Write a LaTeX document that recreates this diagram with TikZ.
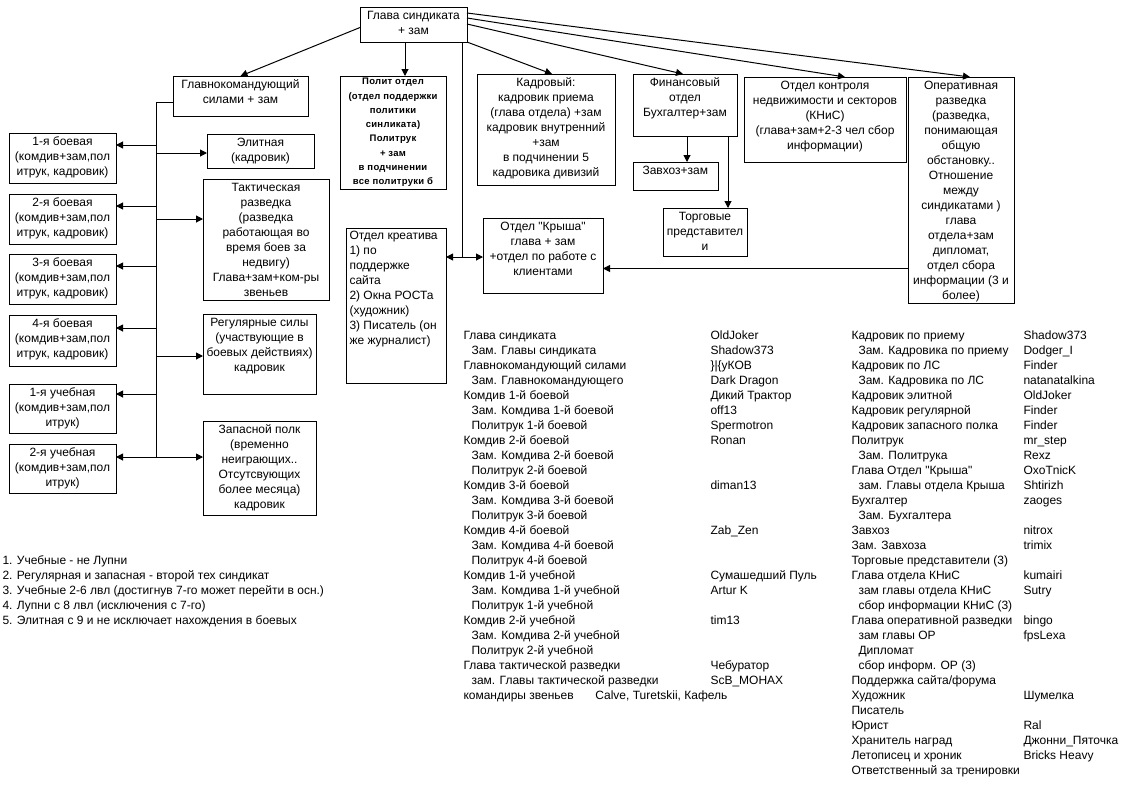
\documentclass[tikz,border=0pt]{standalone}
\usepackage{fontspec}
\setmainfont{Liberation Sans}
\newfontfamily\pbold[LetterSpace=3,BoldFont={Liberation Sans Bold}]{Liberation Sans}
\usetikzlibrary{arrows.meta,calc}
\newcommand\bx[6]{%
  \node[boxst, minimum width={(#4-#2)*1pt}, minimum height={(#5-#3)*1pt}] (#1) at (#2,#3) {};
  \node[txt, anchor=north] (#1-t) at ([yshift=-1.5pt]#1.north) {\strut #6};}
\newcommand\dq{\textquotedbl}
\begin{document}
\begin{tikzpicture}[x=1pt,y=-1pt,line width=1pt,
  boxst/.style={draw, rectangle, inner sep=0pt, outer sep=0pt, anchor=north west},
  txt/.style={inner sep=0pt, align=center, font=\fontsize{12}{15}\selectfont},
  ltxt/.style={inner sep=0pt, align=left, anchor=north west, font=\fontsize{12}{15}\selectfont},
  arr/.style={-{Triangle[length=7pt,width=7pt]}}]
\useasboundingbox[fill=white] (0,0) rectangle (1130,793);

% boxes
\bx{glava}{360}{7}{467}{42}{Глава синдиката\\+ зам}
\bx{glavnokom}{173}{76}{308}{116}{Главнокомандующий\\силами + зам}
\node[boxst, minimum width=106pt, minimum height=113pt] (polit) at (340,76) {};
\node[inner sep=0pt, align=center, anchor=north, font=\fontsize{9.5}{14.3}\selectfont\pbold\bfseries] (polit-t) at ([yshift=1.8pt]polit.north)
  {\strut Полит отдел\\(отдел поддержки\\политики\\синликата)\\Политрук\\+ зам\\в подчинении\\все политруки б};
\bx{kadr}{477}{74}{615}{185}{Кадровый:\\кадровик приема\\(глава отдела) +зам\\кадровик внутренний\\+зам\\в подчинении 5\\кадровика дивизий}
\bx{fin}{633}{74}{737}{136}{Финансовый\\отдел\\Бухгалтер+зам}
\node[boxst, minimum width=85pt, minimum height=28pt] (zavhoz) at (633,162) {};
\node[ltxt] (zavhoz-t) at (642,163.5) {\strut Завхоз+зам};
\bx{torg}{663}{208}{747}{256}{Торговые\\представител\\и}
\bx{knis}{744}{77}{906}{162}{Отдел контроля\\недвижимости и секторов\\(КНиС)\\(глава+зам+2-3 чел сбор\\информации)}
\bx{oper}{908}{77}{1014}{303}{Оперативная\\разведка\\(разведка,\\понимающая\\общую\\обстановку..\\Отношение\\между\\синдикатами )\\глава\\отдела+зам\\дипломат,\\отдел сбора\\информации (3 и\\более)}
\bx{krysha}{483}{218}{603}{293}{Отдел \dq Крыша\dq\\глава + зам\\+отдел по работе с\\клиентами}
\node[boxst, minimum width=100pt, minimum height=155pt] (kreativ) at (346,228) {};
\node[ltxt] (kreativ-t) at (349,228.5) {\strut Отдел креатива\\1) по\\поддержке\\сайта\\2) Окна РОСТа\\(художник)\\3) Писатель (он\\же журналист)};
\bx{elit}{207}{134}{314}{168}{Элитная\\(кадровик)}
\bx{takt}{203}{179}{329}{300}{Тактическая\\разведка\\(разведка\\работающая во\\время боев за\\недвигу)\\Глава+зам+ком-ры\\звеньев}
\bx{regul}{203}{314}{316}{394}{Регулярные силы\\(участвующие в\\боевых действиях)\\кадровик}
\bx{zapas}{203}{421}{316}{515}{Запасной полк\\(временно\\неиграющих..\\Отсутсвующих\\более месяца)\\кадровик}
\bx{b1}{9}{133}{116}{183}{1-я боевая\\(комдив+зам,пол\\итрук, кадровик)}
\bx{b2}{9}{194}{116}{244}{2-я боевая\\(комдив+зам,пол\\итрук, кадровик)}
\bx{b3}{9}{254}{116}{304}{3-я боевая\\(комдив+зам,пол\\итрук, кадровик)}
\bx{b4}{9}{315}{116}{366}{4-я боевая\\(комдив+зам,пол\\итрук, кадровик)}
\bx{u1}{9}{384}{116}{433}{1-я учебная\\(комдив+зам,пол\\итрук)}
\bx{u2}{9}{444}{116}{493}{2-я учебная\\(комдив+зам,пол\\итрук)}

% connectors from the head
\draw[arr] ([yshift=-3pt]glava.west) -- (glavnokom.north);
\draw[arr] ([xshift=-8.5pt]glava.south) -- ([xshift=-8.5pt]glava.south |- polit.north);
\coordinate (j1) at (462,257);
\draw (glava.south -| j1) -- (j1);
\draw[arr] (j1) -- (j1 -| kreativ.east);
\draw[arr] (j1) -- (j1 -| krysha.west);
\draw[arr] ([yshift=11.5pt]glava.east) -- ([xshift=9pt]oper.north);
\draw[arr] ([yshift=6.5pt]glava.east) -- ([xshift=20pt]knis.north);
\draw[arr] ([yshift=0.5pt]glava.east) -- ([xshift=-2pt]fin.north);
\draw[arr] (glava.south east) -- ([xshift=6pt]kadr.north);
\draw[arr] ([xshift=2pt]fin.south) -- ([xshift=2pt]fin.south |- zavhoz.north);
\draw[arr] ([xshift=43pt]fin.south) -- ([xshift=43pt]fin.south |- torg.north);
\coordinate (o1) at ($(oper.west)+(0,78.5)$);
\draw[arr] (o1) -- (o1 -| krysha.east);

% trunk of the forces
\coordinate (tr0) at (156,102);
\coordinate (tr1) at (156,458);
\draw (glavnokom.west |- tr0) -- (tr0) -- (tr1);
\foreach \n/\y in {b1/145,b2/206,b3/266,b4/328,u1/394,u2/457}{
  \coordinate (p\n) at (156,\y);
  \draw[arr] (p\n) -- (p\n -| \n.east);}
\foreach \n/\y in {elit/153,takt/219,regul/356,zapas/457}{
  \coordinate (q\n) at (156,\y);
  \draw[arr] (q\n) -- (q\n -| \n.west);}

% table, left part
\node[ltxt] (tabA) at (463,328.5) {\strut Глава синдиката\\
\hspace*{8pt}Зам. Главы синдиката\\
Главнокомандующий силами\\
\hspace*{8pt}Зам. Главнокомандующего\\
Комдив 1-й боевой\\
\hspace*{8pt}Зам. Комдива 1-й боевой\\
\hspace*{8pt}Политрук 1-й боевой\\
Комдив 2-й боевой\\
\hspace*{8pt}Зам. Комдива 2-й боевой\\
\hspace*{8pt}Политрук 2-й боевой\\
Комдив 3-й боевой\\
\hspace*{8pt}Зам. Комдива 3-й боевой\\
\hspace*{8pt}Политрук 3-й боевой\\
Комдив 4-й боевой\\
\hspace*{8pt}Зам. Комдива 4-й боевой\\
\hspace*{8pt}Политрук 4-й боевой\\
Комдив 1-й учебной\\
\hspace*{8pt}Зам. Комдива 1-й учебной\\
\hspace*{8pt}Политрук 1-й учебной\\
Комдив 2-й учебной\\
\hspace*{8pt}Зам. Комдива 2-й учебной\\
\hspace*{8pt}Политрук 2-й учебной\\
Глава тактической разведки\\
\hspace*{8pt}зам. Главы тактической разведки\\
\makebox[132pt][l]{командиры звеньев}Calve, Turetskii, Кафель};
\node[ltxt] (tabB) at (710,328.5) {\strut OldJoker\\Shadow373\\\}|\{уКОВ\\Dark Dragon\\Дикий Трактор\\off13\\Spermotron\\Ronan\\\mbox{}\\\mbox{}\\diman13\\\mbox{}\\\mbox{}\\Zab\_Zen\\\mbox{}\\\mbox{}\\Сумашедший Пуль\\Artur K\\\mbox{}\\tim13\\\mbox{}\\\mbox{}\\Чебуратор\\ScB\_MOHAX};

% table, right part
\node[ltxt] (tabC) at (851,328.5) {\strut Кадровик по приему\\
\hspace*{7pt}Зам. Кадровика по приему\\
Кадровик по ЛС\\
\hspace*{7pt}Зам. Кадровика по ЛС\\
Кадровик элитной\\
Кадровик регулярной\\
Кадровик запасного полка\\
Политрук\\
\hspace*{7pt}Зам. Политрука\\
Глава Отдел \dq Крыша\dq\\
\hspace*{7pt}зам. Главы отдела Крыша\\
Бухгалтер\\
\hspace*{7pt}Зам. Бухгалтера\\
Завхоз\\
Зам. Завхоза\\
Торговые представители (3)\\
Глава отдела КНиС\\
\hspace*{7pt}зам главы отдела КНиС\\
\hspace*{7pt}сбор информации КНиС (3)\\
Глава оперативной разведки\\
\hspace*{7pt}зам главы ОР\\
\hspace*{7pt}Дипломат\\
\hspace*{7pt}сбор информ. ОР (3)\\
Поддержка сайта/форума\\
Художник\\
Писатель\\
Юрист\\
Хранитель наград\\
Летописец и хроник\\
Ответственный за тренировки};
\node[ltxt] (tabD) at (1023,328.5) {\strut Shadow373\\Dodger\_I\\Finder\\natanatalkina\\OldJoker\\Finder\\Finder\\mr\_step\\Rexz\\OxoTnicK\\Shtirizh\\zaoges\\\mbox{}\\nitrox\\trimix\\\mbox{}\\kumairi\\Sutry\\\mbox{}\\bingo\\fpsLexa\\\mbox{}\\\mbox{}\\\mbox{}\\Шумелка\\\mbox{}\\Ral\\Джонни\_Пяточка\\Bricks Heavy};

% notes
\node[ltxt] (notes) at (2,553.5) {\strut 1. Учебные - не Лупни\\
2. Регулярная и запасная - второй тех синдикат\\
3. Учебные 2-6 лвл (достигнув 7-го может перейти в осн.)\\
4. Лупни с 8 лвл (исключения с 7-го)\\
5. Элитная с 9 и не исключает нахождения в боевых};
\end{tikzpicture}
\end{document}
